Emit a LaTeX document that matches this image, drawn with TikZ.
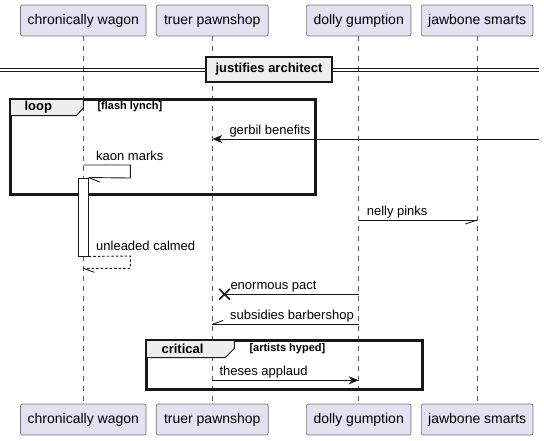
\documentclass[tikz,border=0pt]{standalone}
\usepackage{xcolor}
\usepackage{fontspec}
\setmainfont{Liberation Sans}
\usepackage{tikz}
\usetikzlibrary{arrows.meta,shapes.misc,positioning}

\definecolor{actorfill}{RGB}{226,226,240}
\definecolor{tabfill}{RGB}{238,238,238}
\definecolor{ink}{RGB}{24,24,24}

\tikzset{
  actor/.style={draw=black!55, fill=actorfill, rounded corners=2pt, line width=0.7pt,
    minimum height=31pt, inner sep=0pt, font=\fontsize{14}{16}\selectfont},
  lifeline/.style={draw=ink!70, dash pattern=on 5pt off 5pt, line width=0.6pt},
  msg/.style={draw=ink, line width=0.9pt},
  fullhead/.style={-{Stealth[length=10pt,width=8pt,inset=3pt]}},
  msgtext/.style={anchor=base west, inner sep=0pt, font=\fontsize{13}{15}\selectfont},
  framebox/.style={draw=ink, line width=2pt, inner sep=0pt},
  tabshape/.style={draw=ink, fill=tabfill, line width=1pt},
  tabtext/.style={inner sep=0pt, font=\bfseries\fontsize{13}{15}\selectfont},
  guardtext/.style={anchor=west, inner sep=0pt, font=\bfseries\fontsize{11}{13}\selectfont}
}

\begin{document}
\begin{tikzpicture}[x=1pt, y=-1pt, line width=1pt]
\useasboundingbox (0,0) rectangle (544,440);

\node[actor, minimum width=125.5pt] (cw) at (83.3,20.5) {chronically wagon};
\node[actor, minimum width=112pt] (tp) at (212.3,20.5) {truer pawnshop};
\node[actor, minimum width=104.7pt] (dg) at (358.7,20.5) {dolly gumption};
\node[actor, minimum width=111.7pt] (js) at (477.2,20.5) {jawbone smarts};

\node[actor, minimum width=125.5pt] (cwb) at (83.3,419.5) {chronically wagon};
\node[actor, minimum width=112pt] (tpb) at (212.3,419.5) {truer pawnshop};
\node[actor, minimum width=104.7pt] (dgb) at (358.7,419.5) {dolly gumption};
\node[actor, minimum width=111.7pt] (jsb) at (477.2,419.5) {jawbone smarts};

\draw[lifeline] (cw) -- (cwb);
\draw[lifeline] (tp) -- (tpb);
\draw[lifeline] (dg) -- (dgb);
\draw[lifeline] (js) -- (jsb);

\draw[ink, line width=0.9pt] (0,68.5) -- (538.7,68.5);
\draw[ink, line width=0.9pt] (0,71.6) -- (538.7,71.6);
\node[draw=ink, fill=tabfill, line width=1.8pt, minimum width=126pt, minimum height=24.5pt,
  inner sep=0pt, font=\bfseries\fontsize{13}{15}\selectfont] (sep) at (269,69.4) {justifies architect};

\node[framebox, anchor=north west, minimum width=303.7pt, minimum height=94pt] (loopbox) at (10,98.5) {};
\draw[tabshape] (loopbox.north west) -- (83.3,98.5) -- (83.3,108) -- (76.5,115.5) -- (10,115.5) -- cycle;
\draw[framebox] (loopbox.north west) rectangle (loopbox.south east);
\node[tabtext] (looplbl) at (38.3,106.8) {loop};
\node[guardtext] (loopcond) at (97,106.8) {[flash lynch]};

\coordinate (offright) at (538.7,139);
\draw[msg, fullhead] (offright) -- (tp |- offright);
\node[msgtext] (m1) at (229,134.5) {gerbil benefits};

\node[draw=ink, fill=white, line width=0.9pt, minimum width=10pt, minimum height=78pt, inner sep=0pt] (act) at (83.3,217) {};
\draw[msg] (cw |- 0,165) -- (130.3,165) -- (130.3,178) -- (act.north east);
\draw[msg] (act.north east) -- ++(11,4.5);
\node[msgtext] (m2) at (95.7,160.3) {kaon marks};

\draw[msg] (dg |- 0,220) -- (js |- 0,220);
\draw[msg] (js |- 0,220) -- ++(-12,4);
\node[msgtext] (m3) at (366.3,215.3) {nelly pinks};

\draw[msg, dash pattern=on 2.5pt off 2pt] (act.south east) -- (130.3,256) -- (130.3,268.3) -- (cw |- 0,268.3);
\draw[msg] (cw |- 0,268.3) -- ++(11,4);
\node[msgtext] (m4) at (95.7,250.5) {unleaded calmed};

\node[draw=ink, cross out, line width=1.6pt, minimum size=9pt, inner sep=0pt] (boom) at (224.5,294.3) {};
\draw[msg] (dg |- boom) -- (boom.center);
\node[msgtext] (m5) at (230,289.5) {enormous pact};

\draw[msg] (dg |- 0,324.3) -- (tp |- 0,324.3);
\draw[msg] (tp |- 0,324.3) -- ++(11,-3.8);
\node[msgtext] (m6) at (229.7,319.5) {subsidies barbershop};

\node[framebox, anchor=north west, minimum width=275.3pt, minimum height=48pt] (critbox) at (145.7,340) {};
\draw[tabshape] (critbox.north west) -- (234.3,340) -- (234.3,348.5) -- (225,357.7) -- (145.7,357.7) -- cycle;
\draw[framebox] (critbox.north west) rectangle (critbox.south east);
\node[tabtext] (critlbl) at (182.5,348.8) {critical};
\node[guardtext] (critcond) at (249,348.8) {[artists hyped]};

\draw[msg, fullhead] (tp |- 0,380.3) -- (dg |- 0,380.3);
\node[msgtext] (m7) at (219,375.5) {theses applaud};
\end{tikzpicture}
\end{document}
